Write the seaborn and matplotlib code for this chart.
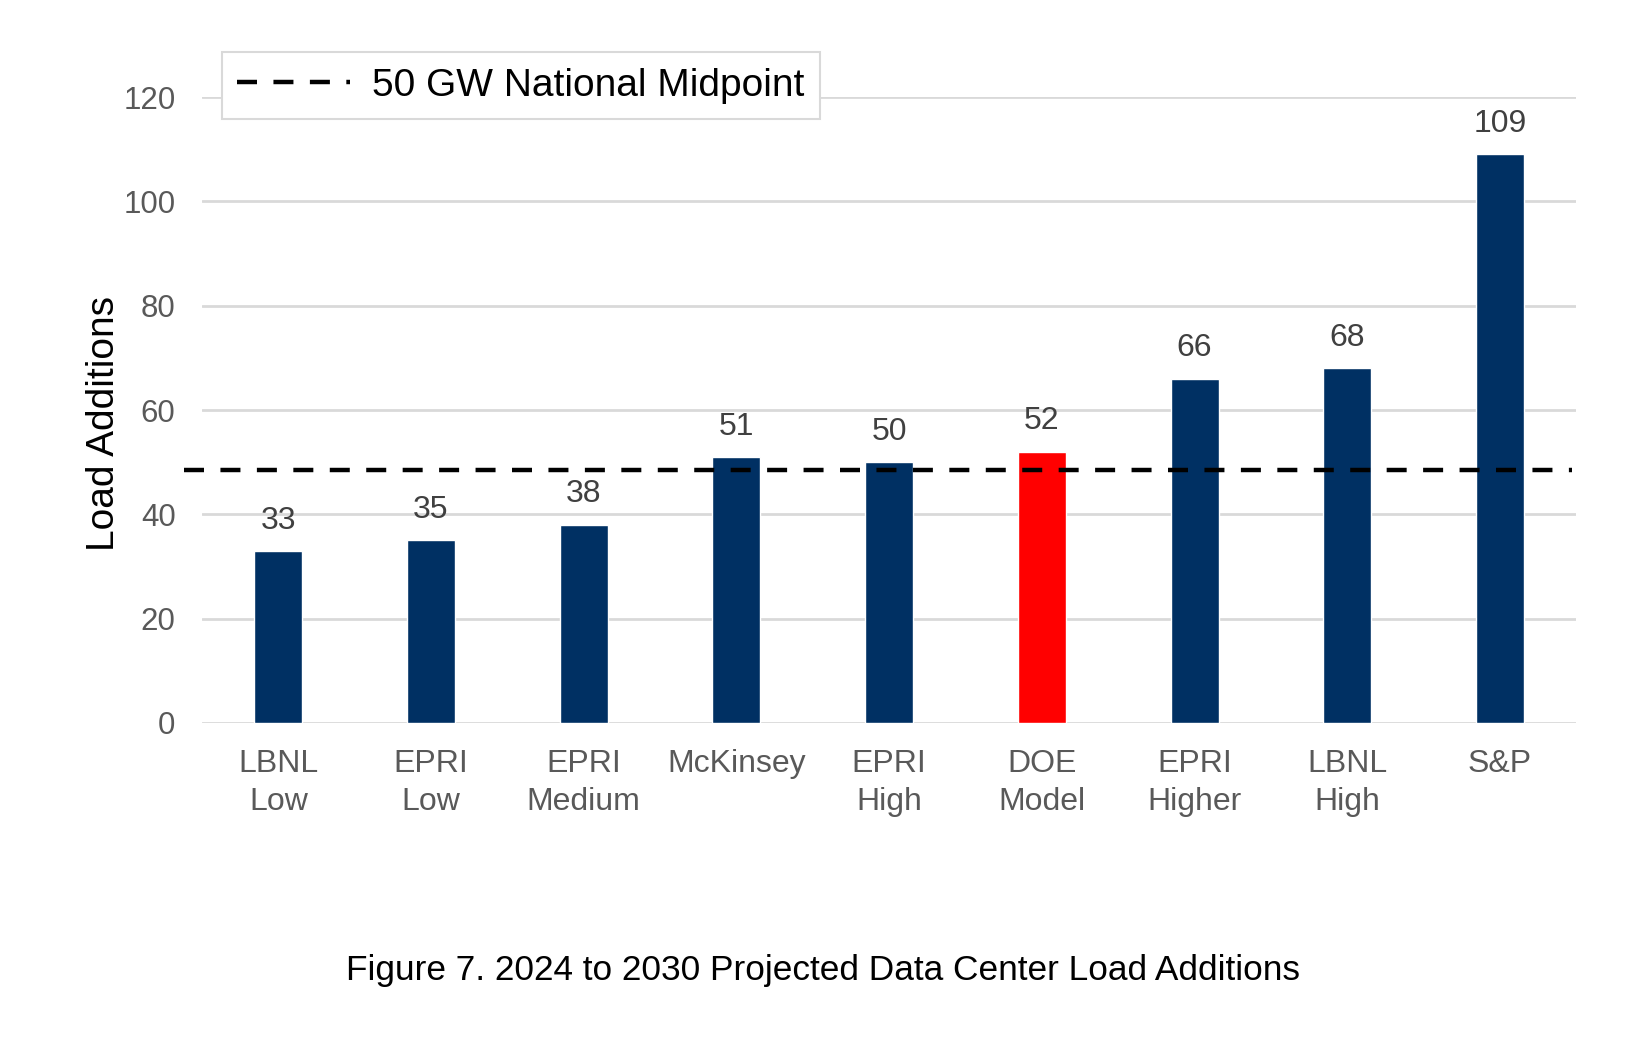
import matplotlib
matplotlib.use("Agg")
import matplotlib.pyplot as plt
import seaborn as sns
import pandas as pd

# Data
sources = ["LBNL\nLow", "EPRI\nLow", "EPRI\nMedium", "McKinsey", "EPRI\nHigh",
           "DOE\nModel", "EPRI\nHigher", "LBNL\nHigh", "S&P"]
load_gw = [33, 35, 38, 51, 50, 52, 66, 68, 109]
bar_colors = ["#003063", "#003063", "#003063", "#003063", "#003063",
              "#FF0000", "#003063", "#003063", "#003063"]
midpoint = 48.5
y_ticks = [0, 20, 40, 60, 80, 100, 120]

sns.set_theme(style="white")
plt.rcParams['font.family'] = ['Liberation Sans', 'DejaVu Sans']

df = pd.DataFrame({"source": sources, "load": load_gw})

fig = plt.figure(figsize=(16.42, 10.64), dpi=100)
ax = fig.add_axes([0.123, 0.3205, 0.837, 0.5883])

sns.barplot(data=df, x="source", y="load", hue="source", palette=bar_colors,
            width=0.315, legend=False, saturation=1, ax=ax)

for cont in ax.containers:
    ax.bar_label(cont, padding=11, fontsize=23, color="#404040")

# gridlines
for t in y_ticks:
    ax.axhline(t, color="#D9D9D9", lw=2, zorder=0)

# dashed midpoint line (extends a bit left of the axes)
ax.plot([-0.62, 8.47], [midpoint, midpoint], color="black", lw=3.2,
        linestyle=(0, (4.5, 3.7)), clip_on=False, zorder=5,
        label="50 GW National Midpoint")

ax.set_xlim(-0.5, 8.5)
ax.set_ylim(0, 120)
ax.set_yticks(y_ticks)
ax.tick_params(axis="y", labelsize=22.5, labelcolor="#595959", length=0, pad=19)
ax.tick_params(axis="x", labelsize=23, labelcolor="#595959", length=0, pad=19)
for lbl in ax.get_xticklabels():
    lbl.set_linespacing(1.35)
for s in ax.spines.values():
    s.set_visible(False)

ax.set_xlabel("")
ax.set_ylabel("Load Additions", fontsize=28, color="black")
ax.yaxis.set_label_coords(-0.058, 0.478)

leg = ax.legend(loc="upper left", bbox_to_anchor=(0.0145, 1.072),
                borderaxespad=0, fontsize=28, frameon=True, fancybox=False,
                handlelength=2.9, handletextpad=0.55, borderpad=0.4,
                framealpha=1)
for txt in leg.get_texts():
    txt.set_color("black")
leg.get_frame().set_edgecolor("#D9D9D9")
leg.get_frame().set_linewidth(1.5)

fig.text(0.501, 0.088, "Figure 7. 2024 to 2030 Projected Data Center Load Additions",
         ha="center", va="center", fontsize=25.4, color="black")

fig.savefig("out.png", dpi=100, facecolor="white")
